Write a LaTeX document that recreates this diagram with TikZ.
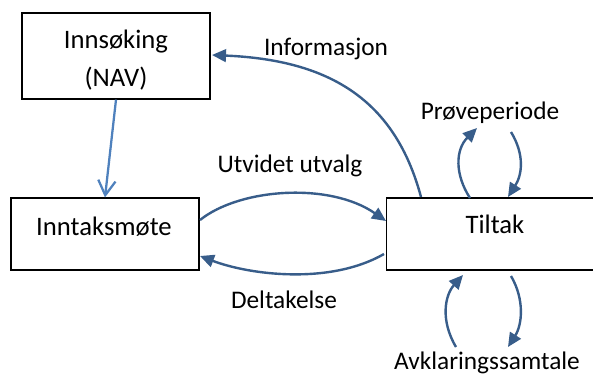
\documentclass[tikz,border=0pt]{standalone}
\usepackage{fontspec}
\setmainfont{Carlito}
\usetikzlibrary{arrows.meta}
\definecolor{ArrowClr}{RGB}{56,93,138}
\definecolor{LightArrowClr}{RGB}{79,129,189}

\tikzset{
  boxnode/.style={draw=black,line width=0.9pt,fill=white,inner sep=0pt},
  boxtext/.style={font=\fontsize{20}{28.5}\selectfont,anchor=base,inner sep=0pt,align=center},
  flowtext/.style={font=\fontsize{19}{23}\selectfont,anchor=base,inner sep=0pt},
  flow/.style={draw=ArrowClr,line width=1.8pt,-{Triangle[length=10.5pt,width=9.5pt]}},
}

\begin{document}
\begin{tikzpicture}[x=0.75pt,y=-0.75pt]
\clip (0,0) rectangle (593,376);

\node[boxnode,minimum width=141pt,minimum height=64.5pt] (innsok) at (116,56) {};
\node[boxnode,minimum width=141pt,minimum height=54pt] (inntak) at (105,234) {};
\node[boxnode,minimum width=172pt,minimum height=54pt] (tiltak) at (501.5,234) {};

\node[boxtext] (innsoktxt) at (116,86) {Innsøking\\(NAV)};
\node[boxtext] (inntaktxt) at (104,235) {Inntaksmøte};
\node[boxtext] (tiltaktxt) at (495,233) {Tiltak};

\coordinate (infoA) at (421,197);
\coordinate (infoB) at (212,55);
\coordinate (utA) at (200,220);
\coordinate (utB) at (386,221);
\coordinate (delA) at (384,254);
\coordinate (delB) at (200,256);
\coordinate (proA) at (470,198);
\coordinate (proB) at (477,128);
\coordinate (proC) at (511,132);
\coordinate (proD) at (508,197);
\coordinate (avkA) at (456,347);
\coordinate (avkB) at (463,275);
\coordinate (avkC) at (511,276);
\coordinate (avkD) at (508,347);

\draw[draw=LightArrowClr,line width=1.7pt,-{Straight Barb[length=11pt,width=13pt]}]
  (innsok.south) -- (inntak.north);

\draw[flow] (infoA) .. controls (395,100) and (330,60) .. (infoB);
\draw[flow] (utA) .. controls (240,188) and (330,182) .. (utB);
\draw[flow] (delA) .. controls (330,285) and (250,275) .. (delB);
\draw[flow] (proA) .. controls (455,175) and (455,150) .. (proB);
\draw[flow] (proC) .. controls (525,155) and (522,175) .. (proD);
\draw[flow] (avkA) .. controls (440,320) and (445,295) .. (avkB);
\draw[flow] (avkC) .. controls (525,300) and (522,325) .. (avkD);

\node[flowtext] (info) at (326,55) {Informasjon};
\node[flowtext] (utvidet) at (290,172) {Utvidet utvalg};
\node[flowtext] (delta) at (284,308) {Deltakelse};
\node[flowtext] (prove) at (490,119) {Prøveperiode};
\node[flowtext] (avklar) at (487,369) {Avklaringssamtale};

\end{tikzpicture}
\end{document}
